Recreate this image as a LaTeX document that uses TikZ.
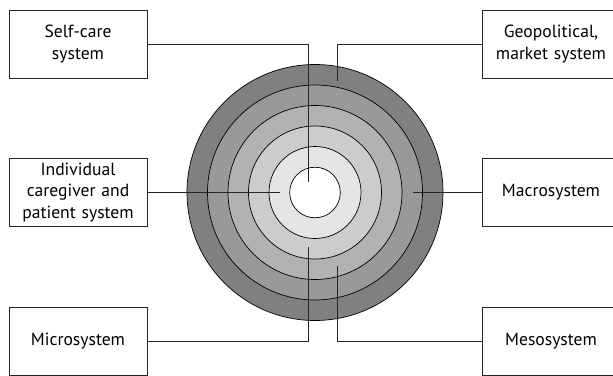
\documentclass[tikz,border=0pt]{standalone}
\usepackage{fontspec}
\setmainfont{PT Sans}
\usepackage{tikz}

\definecolor{ringA}{gray}{0.50}
\definecolor{ringB}{gray}{0.60}
\definecolor{ringC}{gray}{0.70}
\definecolor{ringD}{gray}{0.80}
\definecolor{ringE}{gray}{0.90}

\tikzset{
  sysbox/.style={draw=black!85, line width=0.9pt, fill=white, minimum width=138pt,
    minimum height=68pt, inner sep=0pt, text width=134pt, align=center,
    font=\fontsize{17.6}{21.5}\selectfont},
  link/.style={draw=black!85, line width=0.9pt}
}

\begin{document}
\begin{tikzpicture}[x=1pt,y=-1pt]
	\useasboundingbox (0,0) rectangle (613,375);
	\fill[white] (0,0) rectangle (613,375);

	% target rings
	\coordinate (centre) at (315,192.5);
	\foreach \r/\c in {128/ringA, 107.5/ringB, 87/ringC, 66.5/ringD, 46/ringE, 25.3/white}
		\draw[line width=0.7pt, fill=\c] (centre) circle (\r pt);

	% labels
	\node[sysbox] (selfcare) at (78,44) {Self-care\\system};
	\node[sysbox] (geo) at (551,44) {Geopolitical,\\market system};
	\node[sysbox] (indiv) at (78,192.5) {Individual\\caregiver and\\patient system};
	\node[sysbox] (macro) at (551,192.5) {Macrosystem};
	\node[sysbox] (micro) at (78,341) {Microsystem};
	\node[sysbox] (meso) at (551,341) {Mesosystem};

	% ends inside the rings
	\coordinate (selfcare end) at (308,182);
	\coordinate (geo end) at (337,81);
	\coordinate (indiv end) at (280,192.5);
	\coordinate (macro end) at (412.7,192.5);
	\coordinate (micro end) at (308,247);
	\coordinate (meso end) at (337,266);

	\draw[link] (selfcare.east) -| (selfcare end);
	\draw[link] (geo.west) -| (geo end);
	\draw[link] (indiv.east) -- (indiv end);
	\draw[link] (macro.west) -- (macro end);
	\draw[link] (micro.east) -| (micro end);
	\draw[link] (meso.west) -| (meso end);
\end{tikzpicture}
\end{document}
